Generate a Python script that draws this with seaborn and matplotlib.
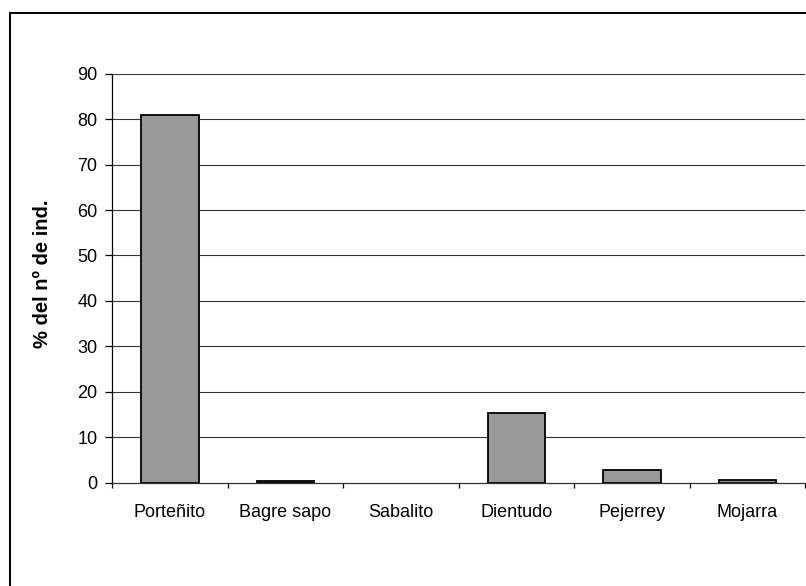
import matplotlib
matplotlib.use("Agg")
import matplotlib.pyplot as plt
from matplotlib.patches import Rectangle
from matplotlib.ticker import FixedLocator
import seaborn as sns
import pandas as pd

species = ["Porteñito", "Bagre sapo", "Sabalito", "Dientudo", "Pejerrey", "Mojarra"]
pct_individuals = [80.9, 0.4, 0.0, 15.3, 2.8, 0.6]
y_ticks = [0, 10, 20, 30, 40, 50, 60, 70, 80, 90]
y_label = "% del nº de ind."

sns.set_style("white")
plt.rcParams["font.family"] = ["Liberation Sans", "DejaVu Sans"]
plt.rcParams["text.color"] = "black"
plt.rcParams["axes.labelcolor"] = "black"
plt.rcParams["xtick.color"] = "black"
plt.rcParams["ytick.color"] = "black"

df = pd.DataFrame({"especie": species, "pct": pct_individuals})

W, H = 806, 586
fig = plt.figure(figsize=(W / 100, H / 100), dpi=100)
fig.patch.set_facecolor("white")

x0, x1 = 112.3, 805.3
y_top, y_bot = 73.7, 482.7
ax = fig.add_axes([x0 / W, (H - y_bot) / H, (x1 - x0) / W, (y_bot - y_top) / H])

sns.barplot(data=df, x="especie", y="pct", ax=ax, color="#999999",
            width=0.5, edgecolor="black", linewidth=1.3, saturation=1)

# an empty category shows no outline
for bar in ax.patches:
    if bar.get_height() == 0:
        bar.set_edgecolor("none")

ax.set_xlim(-0.5, len(species) - 0.5)
ax.set_ylim(0, 90)
ax.yaxis.set_major_locator(FixedLocator(y_ticks))
ax.set_yticklabels([str(v) for v in y_ticks], fontsize=13)

ax.grid(False)
for v in y_ticks[1:]:
    ax.axhline(v, color="#333333", lw=0.8, zorder=0)

for side in ["top", "right"]:
    ax.spines[side].set_visible(False)
ax.spines["left"].set_color("black")
ax.spines["left"].set_linewidth(0.9)
ax.spines["bottom"].set_color("#333333")
ax.spines["bottom"].set_linewidth(0.9)

ax.tick_params(axis="y", direction="out", length=4.7, width=0.9, color="black",
               labelcolor="black", pad=6, left=True)
ax.tick_params(axis="x", which="major", length=0, pad=15.5, labelsize=13, labelcolor="black")
ax.xaxis.set_minor_locator(FixedLocator([i - 0.5 for i in range(len(species) + 1)]))
ax.tick_params(axis="x", which="minor", direction="out", length=3.6, width=0.9, color="black", bottom=True)

ax.set_xlabel("")
ax.set_ylabel(y_label, fontsize=14.5, fontweight="bold", color="black")
ax.yaxis.set_label_coords(-0.087, 0.51)

# chart frame (left and top edges fall inside the canvas)
fig.patches.append(Rectangle((9.5 / W, -0.1), 1.2, (H - 12.5) / H + 0.1,
                             transform=fig.transFigure, fill=False,
                             edgecolor="black", linewidth=1.4, zorder=10))

fig.savefig("out.png", dpi=100, facecolor="white")
